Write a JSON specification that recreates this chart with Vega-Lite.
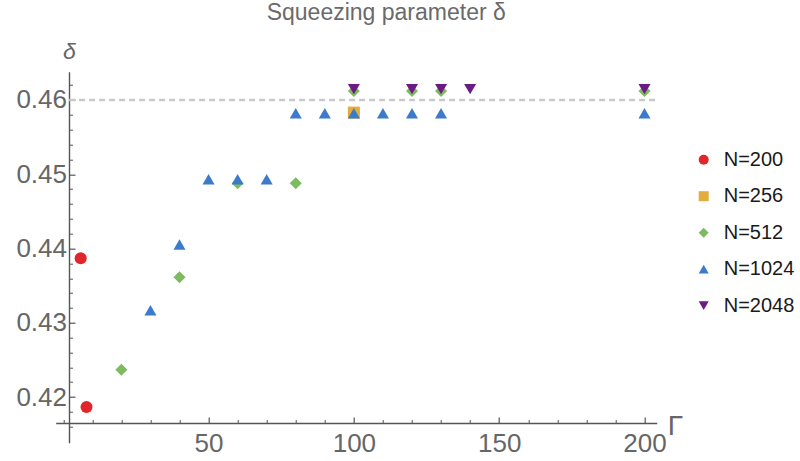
{
  "$schema": "https://vega.github.io/schema/vega-lite/v6.json",
  "width": 601,
  "height": 371,
  "autosize": "none",
  "padding": {"left": 55.7, "top": 71.7, "right": 143.3, "bottom": 18.3},
  "background": "white",
  "title": {
    "text": "Squeezing parameter δ",
    "fontSize": 23,
    "fontWeight": "normal",
    "color": "#6a6a6a",
    "font": "Liberation Sans",
    "anchor": "start",
    "frame": "group",
    "dx": 211,
    "baseline": "alphabetic",
    "offset": -3
  },
  "config": {
    "view": {"stroke": null},
    "font": "Liberation Sans",
    "axis": {"grid": false, "labelFlush": false, "labelOverlap": false, "labelBound": false}
  },
  "layer": [
    {
      "data": {"values": [{"delta": 0.46}]},
      "mark": {"type": "rule", "strokeDash": [6, 4], "color": "#c9c9c9", "strokeWidth": 2.4},
      "encoding": {
        "y": {
          "field": "delta",
          "type": "quantitative",
          "scale": {"domain": [0.41385, 0.46381], "nice": false, "zero": false},
          "axis": {
            "orient": "left",
            "offset": -13.3,
            "values": [0.416, 0.418, 0.422, 0.424, 0.426, 0.428, 0.432, 0.434, 0.436, 0.438, 0.442, 0.444, 0.446, 0.448, 0.452, 0.454, 0.456, 0.458, 0.462],
            "tickSize": -3.5,
            "tickColor": "#555555",
            "tickWidth": 1,
            "labels": false,
            "domain": false,
            "title": null
          }
        },
        "x": {
          "datum": 2,
          "type": "quantitative",
          "scale": {"domain": [-2.6, 204.2], "nice": false, "zero": false},
          "axis": {
            "orient": "bottom",
            "offset": -19.7,
            "values": [0, 10, 20, 30, 40, 60, 70, 80, 90, 110, 120, 130, 140, 160, 170, 180, 190],
            "tickSize": -3.5,
            "tickColor": "#555555",
            "tickWidth": 1,
            "labels": false,
            "domain": false,
            "title": null
          }
        },
        "x2": {"datum": 204.2}
      }
    },
    {
      "data": {
        "values": [
          {"series": "N=200", "gamma": 6, "delta": 0.4387},
          {"series": "N=200", "gamma": 8, "delta": 0.41865},
          {"series": "N=256", "gamma": 100, "delta": 0.4583},
          {"series": "N=512", "gamma": 20, "delta": 0.42367},
          {"series": "N=512", "gamma": 40, "delta": 0.43614},
          {"series": "N=512", "gamma": 60, "delta": 0.44879},
          {"series": "N=512", "gamma": 80, "delta": 0.44879},
          {"series": "N=512", "gamma": 100, "delta": 0.4612},
          {"series": "N=512", "gamma": 120, "delta": 0.4612},
          {"series": "N=512", "gamma": 130, "delta": 0.4612},
          {"series": "N=512", "gamma": 200, "delta": 0.4612},
          {"series": "N=1024", "gamma": 30, "delta": 0.43168},
          {"series": "N=1024", "gamma": 40, "delta": 0.44053},
          {"series": "N=1024", "gamma": 50, "delta": 0.44933},
          {"series": "N=1024", "gamma": 60, "delta": 0.44933},
          {"series": "N=1024", "gamma": 70, "delta": 0.44933},
          {"series": "N=1024", "gamma": 80, "delta": 0.45821},
          {"series": "N=1024", "gamma": 90, "delta": 0.45821},
          {"series": "N=1024", "gamma": 100, "delta": 0.45821},
          {"series": "N=1024", "gamma": 110, "delta": 0.45821},
          {"series": "N=1024", "gamma": 120, "delta": 0.45821},
          {"series": "N=1024", "gamma": 130, "delta": 0.45821},
          {"series": "N=1024", "gamma": 200, "delta": 0.45821},
          {"series": "N=2048", "gamma": 100, "delta": 0.46146},
          {"series": "N=2048", "gamma": 120, "delta": 0.46146},
          {"series": "N=2048", "gamma": 130, "delta": 0.46146},
          {"series": "N=2048", "gamma": 140, "delta": 0.46146},
          {"series": "N=2048", "gamma": 200, "delta": 0.46146}
        ]
      },
      "mark": {"type": "point", "filled": true, "opacity": 1, "size": 145, "strokeWidth": 0},
      "encoding": {
        "x": {
          "field": "gamma",
          "type": "quantitative",
          "scale": {"domain": [-2.6, 204.2], "nice": false, "zero": false},
          "axis": {
            "orient": "bottom",
            "offset": -19.7,
            "values": [50, 100, 150, 200],
            "tickSize": -6,
            "tickColor": "#555555",
            "tickWidth": 1.2,
            "domainColor": "#555555",
            "domainWidth": 1.4,
            "labelFontSize": 26,
            "labelColor": "#666666",
            "labelPadding": 13,
            "title": "Γ",
            "titleFontSize": 28,
            "titleFontWeight": "normal",
            "titleColor": "#666666",
            "titleAngle": 0,
            "titleAlign": "left",
            "titleBaseline": "alphabetic",
            "titleX": 611.6,
            "titleY": 11.7
          }
        },
        "y": {
          "field": "delta",
          "type": "quantitative",
          "scale": {"domain": [0.41385, 0.46381], "nice": false, "zero": false},
          "axis": {
            "orient": "left",
            "offset": -13.3,
            "values": [0.42, 0.43, 0.44, 0.45, 0.46],
            "format": ".2f",
            "tickSize": -6,
            "tickColor": "#555555",
            "tickWidth": 1.2,
            "domainColor": "#555555",
            "domainWidth": 1.4,
            "labelFontSize": 26,
            "labelColor": "#666666",
            "labelPadding": 8.5,
            "title": "δ",
            "titleFontSize": 23,
            "titleFontStyle": "italic",
            "titleFontWeight": "normal",
            "titleColor": "#666666",
            "titleAngle": 0,
            "titleAlign": "center",
            "titleBaseline": "alphabetic",
            "titleX": 0,
            "titleY": -13.4
          }
        },
        "color": {
          "field": "series",
          "type": "nominal",
          "sort": ["N=200", "N=256", "N=512", "N=1024", "N=2048"],
          "scale": {
            "domain": ["N=200", "N=256", "N=512", "N=1024", "N=2048"],
            "range": ["#e0262a", "#e3ac3c", "#7dba60", "#3c7bcb", "#6c1b84"]
          },
          "legend": {
            "orient": "none",
            "legendX": 638,
            "legendY": 78,
            "title": null,
            "padding": 0,
            "labelFontSize": 20,
            "labelColor": "#1a1a1a",
            "labelOffset": 10,
            "symbolSize": 100,
            "symbolStrokeWidth": 0,
            "rowPadding": 16.5
          }
        },
        "shape": {
          "field": "series",
          "type": "nominal",
          "sort": ["N=200", "N=256", "N=512", "N=1024", "N=2048"],
          "scale": {
            "domain": ["N=200", "N=256", "N=512", "N=1024", "N=2048"],
            "range": ["circle", "square", "diamond", "triangle-up", "triangle-down"]
          }
        }
      }
    }
  ],
  "resolve": {"axis": {"x": "independent", "y": "independent"}}
}
